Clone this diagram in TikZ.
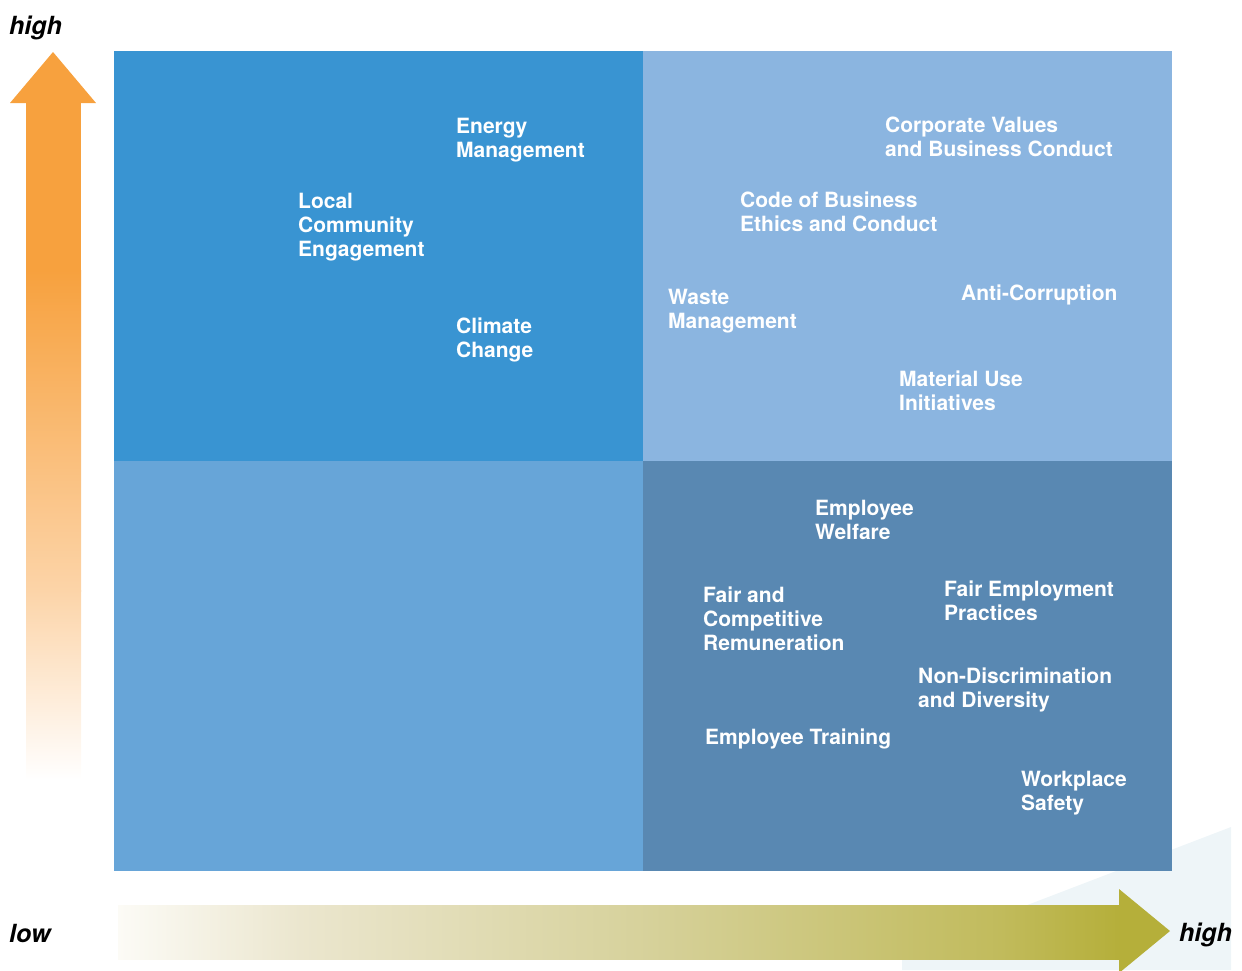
\documentclass[tikz,border=0pt]{standalone}
\usepackage{fontspec}
\setmainfont{TeX Gyre Heros}
\definecolor{qTL}{RGB}{57,148,210}
\definecolor{qTR}{RGB}{139,181,224}
\definecolor{qBL}{RGB}{103,165,216}
\definecolor{qBR}{RGB}{89,136,178}
\definecolor{orA}{RGB}{247,161,62}
\definecolor{orB}{RGB}{252,212,168}
\definecolor{gdA}{RGB}{252,251,246}
\definecolor{gdB}{RGB}{235,230,206}
\definecolor{gdC}{RGB}{214,209,154}
\definecolor{gdD}{RGB}{193,187,92}
\definecolor{gdE}{RGB}{181,175,58}
\definecolor{bgTri}{RGB}{238,245,248}
\tikzset{
  lbl/.style={text=white, font=\bfseries\fontsize{21}{24}\selectfont, align=left, anchor=north west, inner sep=0pt},
  axlbl/.style={text=black, font=\bfseries\itshape\fontsize{25}{28}\selectfont, anchor=base west, inner sep=0pt},
}
\begin{document}
\begin{tikzpicture}[x=1pt,y=-1pt]
\useasboundingbox (0,0) rectangle (1242,970);
% faint background shape
\fill[bgTri] (902,970) -- (902,953) -- (1231,827) -- (1231,970) -- cycle;
% quadrants
\fill[qTL] (114,51) rectangle (643,461);
\fill[qTR] (643,51) rectangle (1172,461);
\fill[qBL] (114,461) rectangle (643,871);
\fill[qBR] (643,461) rectangle (1172,871);
% vertical axis arrow
\fill[orA] (10,103) -- (53,52) -- (96,103) -- cycle;
\fill[orA] (26,102) rectangle (81,271);
\shade[top color=orA, bottom color=orB] (26,270) rectangle (81,591);
\shade[top color=orB, bottom color=white] (26,590) rectangle (81,780);
% horizontal axis arrow
\shade[left color=gdA, right color=gdB] (118,905) rectangle (300.5,959);
\shade[left color=gdB, right color=gdC] (300,905) rectangle (650.5,959);
\shade[left color=gdC, right color=gdD] (650,905) rectangle (1000.5,959);
\shade[left color=gdD, right color=gdE] (1000,905) rectangle (1120,959);
\fill[gdE] (1119,889) -- (1170,931) -- (1119,973) -- cycle;
% axis labels
\node[axlbl] (yhigh) at (9,34) {high};
\node[axlbl] (xlow) at (9,942) {low};
\node[axlbl] (xhigh) at (1179,941) {high};
% top-left quadrant
\node[lbl] (energy) at (456,118) {Energy\\Management};
\node[lbl] (local) at (298,193) {Local\\Community\\Engagement};
\node[lbl] (climate) at (456,318) {Climate\\Change};
% top-right quadrant
\node[lbl] (corp) at (885,117) {Corporate Values\\and Business Conduct};
\node[lbl] (code) at (740,192) {Code of Business\\Ethics and Conduct};
\node[lbl] (waste) at (668,289) {Waste\\Management};
\node[lbl] (anti) at (961,285) {Anti-Corruption};
\node[lbl] (material) at (899,371) {Material Use\\Initiatives};
% bottom-right quadrant
\node[lbl] (welfare) at (815,500) {Employee\\Welfare};
\node[lbl] (remun) at (703,587) {Fair and\\Competitive\\Remuneration};
\node[lbl] (fairemp) at (944,581) {Fair Employment\\Practices};
\node[lbl] (nondisc) at (918,668) {Non-Discrimination\\and Diversity};
\node[lbl] (training) at (705,729) {Employee Training};
\node[lbl] (safety) at (1021,771) {Workplace\\Safety};
\end{tikzpicture}
\end{document}
